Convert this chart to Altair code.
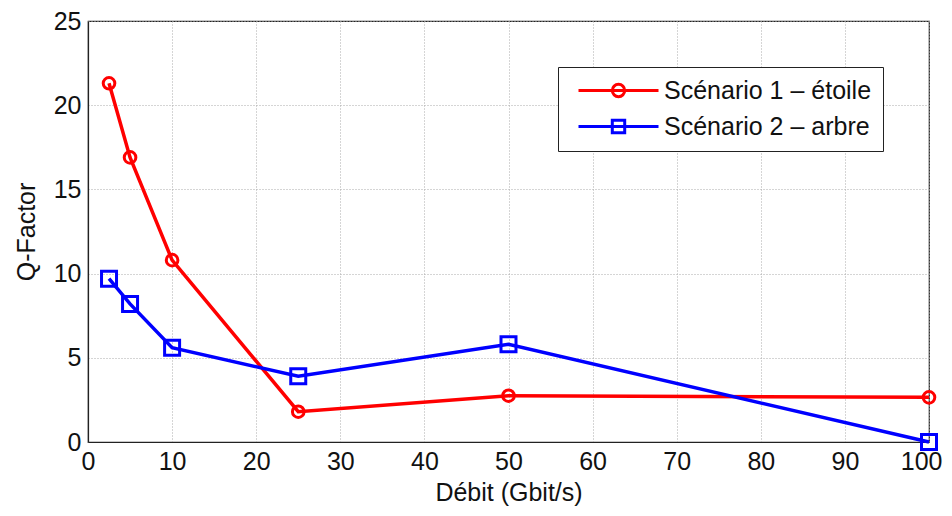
import altair as alt
import pandas as pd

debit = [2.5, 5, 10, 25, 50, 100]
q_etoile = [21.3, 16.9, 10.8, 1.8, 2.75, 2.65]
q_arbre = [9.7, 8.2, 5.6, 3.9, 5.8, 0.0]
series_names = ["Scénario 1 – étoile", "Scénario 2 – arbre"]
series_colors = ["#FF0000", "#0000FF"]
x_ticks = list(range(0, 101, 10))
y_ticks = list(range(0, 26, 5))

df = pd.DataFrame({
    "debit": debit + debit,
    "q": q_etoile + q_arbre,
    "serie": [series_names[0]] * len(debit) + [series_names[1]] * len(debit),
})

FONT = "Liberation Sans"

x_enc = alt.X("debit:Q", scale=alt.Scale(domain=[0, 100], nice=False),
              axis=alt.Axis(values=x_ticks, title="Débit (Gbit/s)", format="d",
                            labelFlush=False,
                            labelAlign={"expr": "datum.value == 100 ? 'right' : 'center'"},
                            labelOffset={"expr": "datum.value == 100 ? 13 : 0"}))
y_enc = alt.Y("q:Q", scale=alt.Scale(domain=[0, 25], nice=False),
              axis=alt.Axis(values=y_ticks, title="Q-Factor", format="d"))

base = alt.Chart(df)

line1 = base.transform_filter(alt.datum.serie == series_names[0]).mark_line(
    color=series_colors[0], strokeWidth=3.5).encode(x=x_enc, y=y_enc)
line2 = base.transform_filter(alt.datum.serie == series_names[1]).mark_line(
    color=series_colors[1], strokeWidth=3.5).encode(x=x_enc, y=y_enc)
pts1 = base.transform_filter(alt.datum.serie == series_names[0]).mark_point(
    shape="circle", size=135, filled=False, color=series_colors[0], strokeWidth=3,
    opacity=1).encode(x=x_enc, y=y_enc)
pts2 = base.transform_filter(alt.datum.serie == series_names[1]).mark_point(
    shape="square", size=225, filled=False, color=series_colors[1], strokeWidth=3,
    opacity=1).encode(x=x_enc, y=y_enc)

circle_path = ("M-4,0H4M0.62,0A0.62,0.62 0 1,1 -0.62,0A0.62,0.62 0 1,1 0.62,0")
square_path = ("M-4,0H4M-0.62,-0.62H0.62V0.62H-0.62Z")

legend_layer = base.transform_filter("false").mark_point(
    filled=False, strokeWidth=3, opacity=1).encode(
    x=x_enc, y=y_enc,
    color=alt.Color("serie:N", scale=alt.Scale(domain=series_names, range=series_colors),
                    legend=alt.Legend(title=None, orient="none", legendX=470, legendY=46)),
    shape=alt.Shape("serie:N", scale=alt.Scale(domain=series_names, range=[circle_path, square_path])),
)

chart = alt.layer(line1, line2, pts1, pts2, legend_layer).properties(
    width=841, height=421,
    autosize=alt.AutoSizeParams(type="none"),
    padding={"left": 80, "top": 13, "right": 14, "bottom": 74},
).configure_view(stroke="#222", strokeWidth=1.2).configure_axis(
    labelFont=FONT, titleFont=FONT, labelFontSize=25, titleFontSize=25,
    labelColor="#111", titleColor="#111", titleFontWeight="normal",
    grid=True, gridColor="#aaa", gridDash=[1, 2], gridWidth=1,
    domainColor="#222", domainWidth=1.2, ticks=False, labelPadding=7,
).configure_axisX(titlePadding=6).configure_axisY(titlePadding=14).configure_legend(
    labelFont=FONT, labelFontSize=25, labelColor="#111",
    symbolSize=400, symbolStrokeWidth=3, symbolOffset=37, labelOffset=33,
    rowPadding=10, padding=11, strokeColor="#222", fillColor="white",
    cornerRadius=0, labelLimit=400,
)

chart.save("out.html", embed_options={"renderer": "svg", "actions": False})
